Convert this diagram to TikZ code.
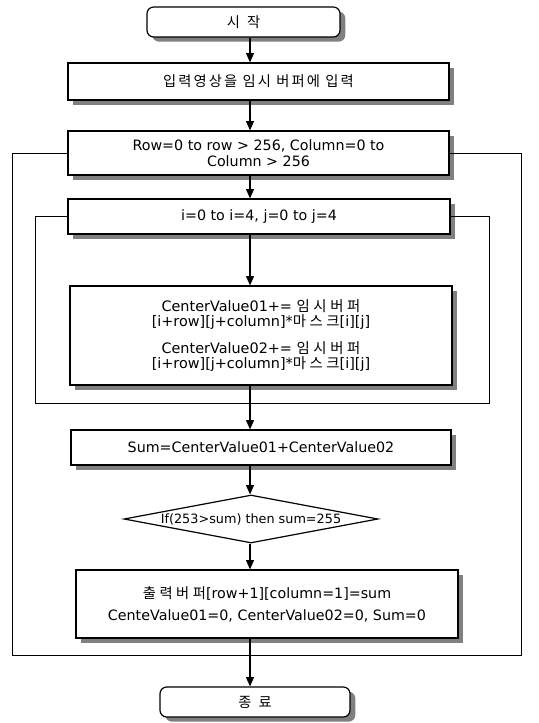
\documentclass[tikz,border=0pt]{standalone}
\usepackage{fontspec}
\setmainfont{DejaVu Sans}
\newfontfamily\kr{Noto Sans CJK KR}
\newfontfamily\krw[LetterSpace=15]{Noto Sans CJK KR}
\newfontfamily\krx[LetterSpace=25]{Noto Sans CJK KR}
\usetikzlibrary{shapes,arrows.meta,positioning,calc,shadows}

\begin{document}
\begin{tikzpicture}[x=0.75pt, y=-0.75pt,
    box/.style={rectangle, draw, line width=0.9pt, fill=white, inner sep=0pt, align=center,
        font=\fontsize{10.7}{12}\selectfont,
        drop shadow={shadow xshift=4pt, shadow yshift=-3.5pt, fill=black!50, opacity=1}},
    term/.style={box, rounded corners=5pt},
    decision/.style={diamond, draw, line width=0.9pt, fill=white, inner sep=0pt,
        minimum width=190.5pt, minimum height=36pt},
    flow/.style={-{Triangle[length=7pt,width=6pt]}, line width=0.8pt},
    loopline/.style={line width=0.6pt}]
    \useasboundingbox (0,0) rectangle (538,723);

    % nodes
    \node[term, minimum width=144.75pt, minimum height=22.5pt] (start) at (243.5,22) {\krw 시\enspace 작};
    \node[box, minimum width=285.75pt, minimum height=27.75pt] (input) at (258.5,81.5) {\krw 입력영상을 임시 버퍼에 입력};
    \node[box, minimum width=285.75pt, minimum height=33pt] (rowloop) at (258.5,153)
        {Row=0 to row > 256, Column=0 to\\Column > 256};
    \node[box, minimum width=286.5pt, minimum height=26.25pt] (ijloop) at (259,216.5) {i=0 to i=4, j=0 to j=4};
    \node[box, minimum width=286.5pt, minimum height=74.25pt, font=\fontsize{10.8}{11}\selectfont] (conv) at (261,335.5)
        {CenterValue01+= {\krx 임시버퍼}\\{}[i+row][j+column]*{\krx 마스크}[i][j]\\[8.5pt]
         CenterValue02+= {\krx 임시버퍼}\\{}[i+row][j+column]*{\krx 마스크}[i][j]};
    \node[box, minimum width=285pt, minimum height=26.25pt] (sum) at (261,447.5) {Sum=CenterValue01+CenterValue02};
    \node[decision, label={[font=\fontsize{9.6}{10}\selectfont]center:If(253>sum) then sum=255}] (clip) at (251,519) {};
    \node[box, minimum width=286.5pt, minimum height=51pt, font=\fontsize{10.7}{16.5}\selectfont] (output) at (267,604)
        {{\krx 출력버퍼}[row+1][column=1]=sum\\CenteValue01=0, CenterValue02=0, Sum=0};
    \node[term, minimum width=142.5pt, minimum height=22.5pt] (finish) at (255,702) {\krw 종\enspace 료};

    % loop frames
    \coordinate (spine) at (250,0);
    \coordinate (outerL) at (12,655);
    \coordinate (outerR) at (521,655);
    \coordinate (innerL) at (35,403);
    \coordinate (innerR) at (489,403);
    \draw[loopline] (rowloop.west) -| (outerL) -- (outerR) |- (rowloop.east);
    \draw[loopline] (ijloop.west) -| (innerL) -- (innerR) |- (ijloop.east);

    % flow
    \draw[flow] (start.south -| spine) -- (input.north -| spine);
    \draw[flow] (input.south -| spine) -- (rowloop.north -| spine);
    \draw[flow] (rowloop.south -| spine) -- (ijloop.north -| spine);
    \draw[flow] (ijloop.south -| spine) -- (conv.north -| spine);
    \draw[flow] (conv.south -| spine) -- (sum.north -| spine);
    \draw[flow] (sum.south -| spine) -- (clip.north -| spine);
    \draw[flow] (clip.south -| spine) -- (output.north -| spine);
    \draw[flow] (output.south -| spine) -- (finish.north -| spine);
\end{tikzpicture}
\end{document}
